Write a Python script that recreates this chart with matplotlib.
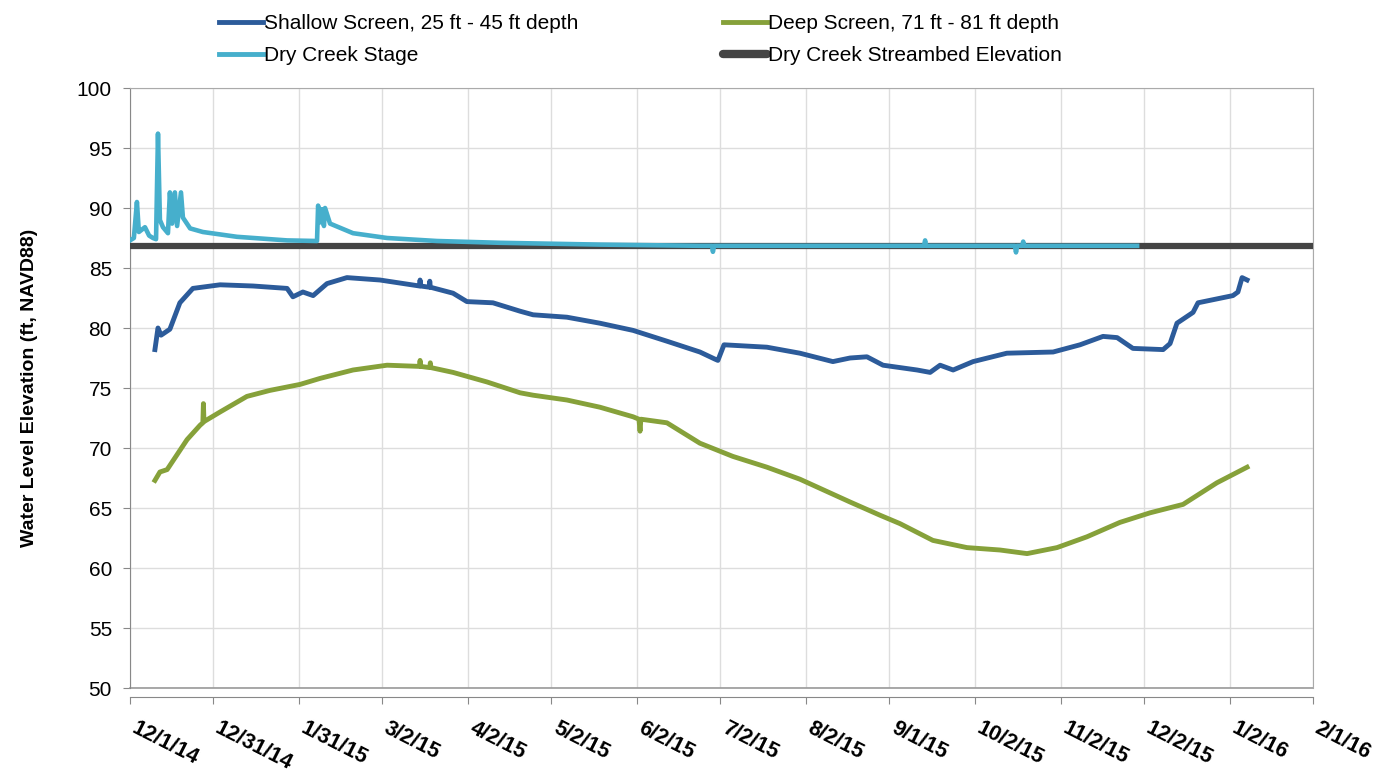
import matplotlib.pyplot as plt
import matplotlib.transforms as mtransforms
import numpy as np

plt.rcParams['font.family'] = ['Liberation Sans', 'DejaVu Sans']

start = np.datetime64('2014-12-01')

# x tick dates (Excel style ~30.5 day spacing)
tick_dates = ['2014-12-01', '2014-12-31', '2015-01-31', '2015-03-02', '2015-04-02',
              '2015-05-02', '2015-06-02', '2015-07-02', '2015-08-02', '2015-09-01',
              '2015-10-02', '2015-11-02', '2015-12-02', '2016-01-02', '2016-02-01']
tick_labels = ['12/1/14', '12/31/14', '1/31/15', '3/2/15', '4/2/15', '5/2/15', '6/2/15',
               '7/2/15', '8/2/15', '9/1/15', '10/2/15', '11/2/15', '12/2/15', '1/2/16',
               '2/1/16']

# days since 12/1/14 and water level (ft, NAVD88)
shallow_days = [9.0, 10.1, 11.2, 14.4, 18.0, 22.7, 32.5, 44.4, 56.7, 58.8, 62.4, 66.1,
                71.1, 78.3, 90.2, 104.5, 104.7, 104.9, 108.0, 108.2, 108.4, 116.6, 121.6,
                131.0, 140.8, 145.5, 157.7, 169.6, 181.6, 193.8, 205.7, 211.2, 212.2,
                214.4, 229.9, 241.8, 253.7, 259.9, 266.0, 271.8, 284.1, 288.8, 292.4,
                297.1, 304.3, 316.5, 333.2, 342.9, 351.2, 356.3, 362.0, 372.9, 375.4,
                377.9, 383.7, 385.5, 398.1, 399.9, 401.4, 403.2]
shallow_vals = [78.2, 80.0, 79.4, 79.9, 82.1, 83.3, 83.6, 83.5, 83.3, 82.6, 83.0, 82.7,
                83.7, 84.2, 84.0, 83.5, 84.0, 83.5, 83.4, 83.9, 83.4, 82.9, 82.2,
                82.1, 81.4, 81.1, 80.9, 80.4, 79.8, 78.9, 78.0, 77.4, 77.3,
                78.6, 78.4, 77.9, 77.2, 77.5, 77.6, 76.9, 76.5, 76.3, 76.9,
                76.5, 77.2, 77.9, 78.0, 78.6, 79.3, 79.2, 78.3, 78.2, 78.7,
                80.4, 81.3, 82.1, 82.7, 83.0, 84.2, 84.0]

deep_days = [9.0, 10.8, 13.4, 20.6, 25.3, 26.3, 26.5, 26.7, 32.5, 42.2, 50.5, 61.4,
             68.6, 80.5, 92.8, 104.5, 104.7, 104.9, 108.2, 108.4, 108.6, 116.6, 128.9,
             140.8, 145.5, 157.7, 169.6, 181.6, 183.7, 184.1, 184.4, 193.8, 205.7,
             217.6, 229.9, 241.8, 259.9, 270.7, 277.9, 289.8, 302.1, 314.0, 323.8,
             334.6, 345.4, 357.3, 368.2, 380.1, 392.3, 403.2]
deep_vals = [67.3, 68.0, 68.2, 70.7, 71.9, 72.1, 73.7, 72.2, 73.0, 74.3, 74.8, 75.3,
             75.8, 76.5, 76.9, 76.8, 77.3, 76.8, 76.7, 77.1, 76.7, 76.3, 75.5,
             74.6, 74.4, 74.0, 73.4, 72.6, 72.4, 71.4, 72.4, 72.1, 70.4,
             69.3, 68.4, 67.4, 65.5, 64.4, 63.7, 62.3, 61.7, 61.5, 61.2,
             61.7, 62.6, 63.8, 64.6, 65.3, 67.1, 68.4]

stage_days = [0.0, 1.4, 2.5, 3.2, 4.3, 5.4, 6.9, 8.3, 9.4, 10.1, 10.8, 11.9, 13.7,
              14.4, 15.2, 16.2, 17.0, 18.4, 19.1, 21.7, 26.3, 38.6, 56.7, 67.5, 67.9,
              68.6, 69.3, 70.0, 70.4, 72.2, 80.5, 92.8, 110.8, 133.6, 169.6, 205.7,
              210.1, 210.4, 210.8, 277.9, 286.6, 287.0, 287.3, 319.4, 319.8, 320.2,
              322.0, 322.4, 322.8, 363.5]
stage_vals = [87.3, 87.5, 90.5, 88.0, 88.2, 88.4, 87.7, 87.5, 87.4, 96.2, 89.0, 88.4, 87.9,
              91.3, 88.7, 91.3, 88.5, 91.3, 89.2, 88.3, 88.0, 87.6, 87.3, 87.25, 90.2,
              88.8, 89.9, 88.5, 90.0, 88.7, 87.9, 87.5, 87.25, 87.1, 86.95, 86.85,
              86.85, 86.35, 86.85, 86.85, 86.85, 87.3, 86.85, 86.85, 86.3, 86.85,
              86.85, 87.2, 86.85, 86.85]

streambed_days = [0, 427]
streambed_vals = [86.8, 86.8]

tick_days = [(np.datetime64(d) - start).astype(int) for d in tick_dates]

fig = plt.figure(figsize=(13.94, 7.72), dpi=100)
ax = fig.add_axes([130 / 1394, 84 / 772, 1183 / 1394, 600 / 772])

# spines first: moving the bottom spine rebuilds the x ticks
for side in ['top', 'right']:
    ax.spines[side].set_color('#aaaaaa')
ax.spines['left'].set_color('#888888')
ax.spines['bottom'].set_color('#888888')
ax.spines['bottom'].set_position(('outward', 6.5))

c_shallow = '#2c5b9a'
c_deep = '#86a13a'
c_stage = '#46afcc'
c_bed = '#444444'

ax.plot(streambed_days, streambed_vals, color=c_bed, lw=4.5, solid_capstyle='butt', zorder=3)
ax.plot(stage_days, stage_vals, color=c_stage, lw=3.3, zorder=4)
ax.plot(shallow_days, shallow_vals, color=c_shallow, lw=3.5, zorder=4)
ax.plot(deep_days, deep_vals, color=c_deep, lw=3.5, zorder=4)
ax.axhline(50, color='#999999', lw=1.2, clip_on=False, zorder=2)

ax.set_xlim(0, 427)
ax.set_ylim(50, 100)
ax.set_yticks(range(50, 101, 5))
ax.tick_params(axis='y', labelsize=15, length=5, color='#888888', pad=8)
ax.tick_params(axis='x', length=5, color='#888888', pad=10)
ax.set_xticks(tick_days)
ax.set_xticklabels(tick_labels, rotation=-27, rotation_mode='anchor', ha='left',
                   va='top', fontweight='bold', fontsize=15.5)
shift = mtransforms.ScaledTranslation(8 / 100, 0, fig.dpi_scale_trans)
for lbl in ax.get_xticklabels():
    lbl.set_transform(lbl.get_transform() + shift)
ax.grid(True, color='#dddddd', lw=1)
ax.set_axisbelow(True)

ax.set_ylabel('Water Level Elevation (ft, NAVD88)', fontsize=14, fontweight='bold',
              labelpad=28)

h_shallow, = ax.plot([], [], color=c_shallow, lw=3.5)
h_deep, = ax.plot([], [], color=c_deep, lw=3.5)
h_stage, = ax.plot([], [], color=c_stage, lw=3.5)
h_bed, = ax.plot([], [], color=c_bed, lw=6, solid_capstyle='round')

leg_kw = dict(loc='upper left', frameon=False, fontsize=15, handlelength=2.1,
              handletextpad=0.05, labelspacing=0.6, borderaxespad=0)
fig.legend([h_shallow, h_stage], ['Shallow Screen, 25 ft - 45 ft depth', 'Dry Creek Stage'],
           bbox_to_anchor=(211 / 1394, 1 - 6 / 772), **leg_kw)
fig.legend([h_deep, h_bed], ['Deep Screen, 71 ft - 81 ft depth', 'Dry Creek Streambed Elevation'],
           bbox_to_anchor=(715 / 1394, 1 - 6 / 772), **leg_kw)

fig.savefig('out.png', dpi=100)
